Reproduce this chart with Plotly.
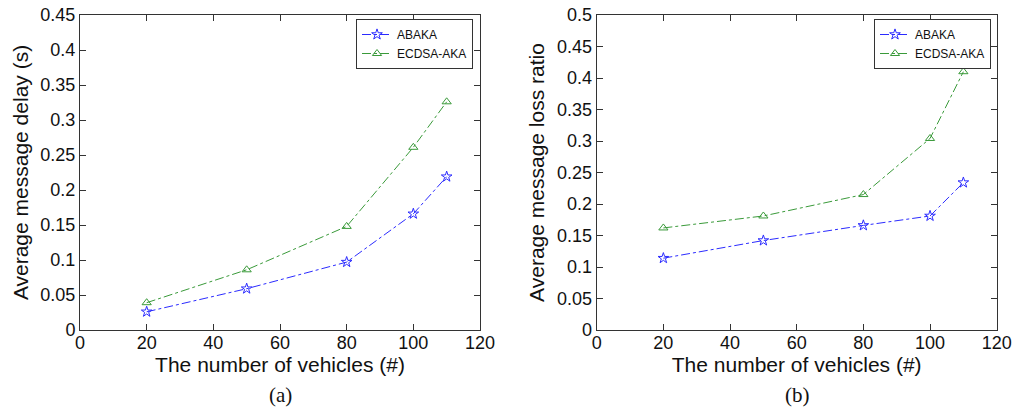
import plotly.graph_objects as go

vehicles = [20, 50, 80, 100, 110]
delay_abaka = [0.026, 0.059, 0.097, 0.166, 0.219]
delay_ecdsa = [0.039, 0.086, 0.148, 0.261, 0.326]
loss_abaka = [0.114, 0.142, 0.166, 0.181, 0.234]
loss_ecdsa = [0.162, 0.181, 0.215, 0.304, 0.410]

x_ticks = [0, 20, 40, 60, 80, 100, 120]
y1_ticks = [0, 0.05, 0.1, 0.15, 0.2, 0.25, 0.3, 0.35, 0.4, 0.45]
y1_labels = ["0", "0.05", "0.1", "0.15", "0.2", "0.25", "0.3", "0.35", "0.4", "0.45"]
y2_ticks = [0, 0.05, 0.1, 0.15, 0.2, 0.25, 0.3, 0.35, 0.4, 0.45, 0.5]
y2_labels = ["0", "0.05", "0.1", "0.15", "0.2", "0.25", "0.3", "0.35", "0.4", "0.45", "0.5"]

BLUE = "#2b2bff"
GREEN = "#3a9a3a"
W, H = 1017, 411

fig = go.Figure()

def add(x, y, name, color, symbol, xa, ya, legend):
    fig.add_trace(go.Scatter(
        x=x, y=y, name=name, mode="lines+markers",
        line=dict(color=color, width=1, dash="dashdot"),
        marker=dict(symbol=symbol, size=8, color=color, line=dict(color=color, width=1)),
        xaxis=xa, yaxis=ya, legend=legend))

add(vehicles, delay_abaka, "ABAKA", BLUE, "star-open", "x", "y", "legend")
add(vehicles, delay_ecdsa, "ECDSA-AKA", GREEN, "triangle-up-open", "x", "y", "legend")
add(vehicles, loss_abaka, "ABAKA", BLUE, "star-open", "x2", "y2", "legend2")
add(vehicles, loss_ecdsa, "ECDSA-AKA", GREEN, "triangle-up-open", "x2", "y2", "legend2")

ydom = [1 - 330 / H, 1 - 15 / H]
axis_common = dict(showline=True, linecolor="#333333", linewidth=1, mirror="ticks",
                   ticks="inside", ticklen=6, tickcolor="#333333", showgrid=False,
                   zeroline=False, automargin=False,
                   tickfont=dict(family="Liberation Sans, Arial", size=18, color="#111111"))
xaxis_extra = dict(ticklabelstandoff=-4)
title_font = dict(family="Liberation Sans, Arial", size=21, color="#111111")
legend_common = dict(xanchor="right", yanchor="top",
                     bordercolor="#333333", borderwidth=1, bgcolor="white",
                     font=dict(family="Liberation Sans, Arial", size=12, color="#111111"),
                     tracegroupgap=0, itemwidth=30)

fig.update_layout(
    width=W, height=H, margin=dict(l=0, r=0, t=0, b=0, autoexpand=False),
    paper_bgcolor="white", plot_bgcolor="white",
    xaxis=dict(domain=[80 / W, 480 / W], range=[0, 120], tickvals=x_ticks, anchor="y",
               title=dict(text="The number of vehicles (#)", font=title_font, standoff=2),
               **xaxis_extra, **axis_common),
    yaxis=dict(domain=ydom, range=[0, 0.45], tickvals=y1_ticks, ticktext=y1_labels, anchor="x",
               title=dict(text="Average message delay (s)", font=title_font, standoff=6), **axis_common),
    xaxis2=dict(domain=[596.7 / W, 996.7 / W], range=[0, 120], tickvals=x_ticks, anchor="y2",
                title=dict(text="The number of vehicles (#)", font=title_font, standoff=2),
                **xaxis_extra, **axis_common),
    yaxis2=dict(domain=ydom, range=[0, 0.5], tickvals=y2_ticks, ticktext=y2_labels, anchor="x2",
                title=dict(text="Average message loss ratio", font=title_font, standoff=6), **axis_common),
    legend=dict(x=473 / W, y=1 - 19 / H, **legend_common),
    legend2=dict(x=991 / W, y=1 - 19 / H, **legend_common),
    annotations=[
        dict(text="(a)", x=280 / W, y=1 - 395 / H, xref="paper", yref="paper", showarrow=False,
             yanchor="middle", xanchor="center",
             font=dict(family="Liberation Serif, Times New Roman", size=21, color="#111111")),
        dict(text="(b)", x=797 / W, y=1 - 395 / H, xref="paper", yref="paper", showarrow=False,
             yanchor="middle", xanchor="center",
             font=dict(family="Liberation Serif, Times New Roman", size=21, color="#111111")),
    ],
)

fig.write_html("out.html", config={"displayModeBar": False},
               post_script="document.body.style.margin='0';document.body.style.overflow='hidden';")
